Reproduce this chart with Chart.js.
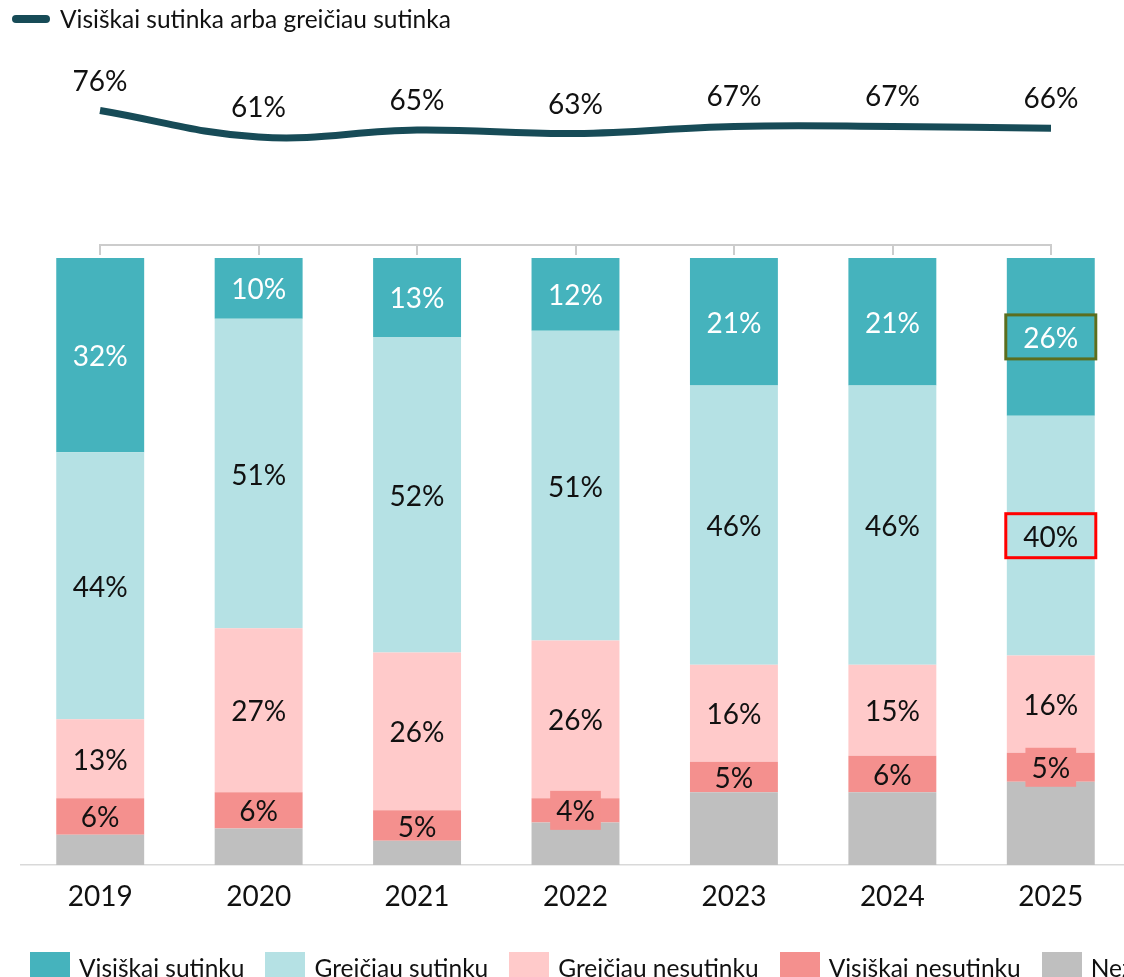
<!DOCTYPE html>
<html>
<head>
<meta charset="utf-8">
<script src="https://cdn.jsdelivr.net/npm/chart.js@4/dist/chart.umd.min.js"></script>
<style>
    html, body { margin: 0; padding: 0; background: #fff; overflow: hidden; }
    body { width: 1124px; height: 977px; position: relative; font-family: Lato, "Open Sans", sans-serif; color: #111; }
    #barWrap { position: absolute; left: 0; top: 0; width: 1140px; height: 977px; }
    #lineWrap { position: absolute; left: 0; top: 0; width: 1140px; height: 262px; }
    .topLegend { position: absolute; left: 12px; top: 4px; display: flex; align-items: center; font-size: 24.5px; white-space: nowrap; }
    .topLegend .swatch { width: 38px; height: 8px; border-radius: 4px; background: #174B57; margin-right: 10px; }
    .bottomLegend { position: absolute; left: 30px; top: 952px; display: flex; white-space: nowrap; font-size: 24.5px; }
    .bottomLegend .item { display: flex; align-items: flex-start; margin-right: 21px; }
    .bottomLegend .box { width: 40px; height: 40px; margin-right: 9px; }
    .bottomLegend span { line-height: 30px; margin-top: 1px; }
</style>
</head>
<body>
<div id="barWrap"><canvas id="barChart"></canvas></div>
<div id="lineWrap"><canvas id="lineChart"></canvas></div>
<div class="topLegend"><div class="swatch"></div>Visiškai sutinka arba greičiau sutinka</div>
<div class="bottomLegend" id="bottomLegend"></div>

<script>
// Data
const years = ['2019', '2020', '2021', '2022', '2023', '2024', '2025'];
const agreeTotal = [76, 61, 65, 63, 67, 67, 66];
const fullyAgree = [32, 10, 13, 12, 21, 21, 26];
const ratherAgree = [44, 51, 52, 51, 46, 46, 39.5];
const ratherDisagree = [13, 27, 26, 26, 16, 15, 16];
const fullyDisagree = [6, 6, 5, 4, 5, 6, 4.8];
const dontKnow = [5, 6, 4, 7, 12, 12, 13.7];

const seriesNames = ['Visiškai sutinku', 'Greičiau sutinku', 'Greičiau nesutinku', 'Visiškai nesutinku', 'Nežinau'];
const seriesColors = ['#45B3BD', '#B5E1E4', '#FFCACA', '#F4908E', '#BFBFBF'];

// boxes drawn round a few labels of the last bar
const highlights = [
    { series: 'Visiškai sutinku', index: 6, color: '#5B6E1E' },
    { series: 'Greičiau sutinku', index: 6, color: '#FF0000' }
];

const labelFont = '28px Lato';

// bottom legend (same order as the series names)
const legendEl = document.getElementById('bottomLegend');
seriesNames.forEach((name, i) => {
    const item = document.createElement('div');
    item.className = 'item';
    item.innerHTML = '<div class="box" style="background:' + seriesColors[i] + '"></div><span>' + name + '</span>';
    legendEl.appendChild(item);
});

const barLabels = {
    id: 'barLabels',
    afterDatasetsDraw(chart) {
        const ctx = chart.ctx;
        ctx.save();
        ctx.font = labelFont;
        ctx.textAlign = 'center';
        ctx.textBaseline = 'middle';
        const centers = {};
        chart.data.datasets.forEach((ds, di) => {
            if (!ds.showLabels) return;
            const meta = chart.getDatasetMeta(di);
            meta.data.forEach((bar, i) => {
                const txt = Math.round(ds.data[i]) + '%';
                const cy = (bar.y + bar.base) / 2;
                const h = Math.abs(bar.base - bar.y);
                const w = ctx.measureText(txt).width;
                // small segments get a label box in the series colour
                if (ds.fillSmall && h < 30) {
                    ctx.fillStyle = ds.backgroundColor;
                    ctx.fillRect(bar.x - w / 2 - 6, cy - 19.5, w + 12, 39);
                }
                ctx.fillStyle = ds.labelColor;
                ctx.fillText(txt, bar.x, cy + 2);
                centers[ds.label + '|' + i] = { x: bar.x, y: cy, w: w };
            });
        });
        highlights.forEach(hl => {
            const c = centers[hl.series + '|' + hl.index];
            if (!c) return;
            ctx.strokeStyle = hl.color;
            ctx.lineWidth = 3;
            ctx.strokeRect(c.x - 45, c.y - 22, 90, 44);
        });
        ctx.restore();
    }
};

function barDataset(name, data, labelColor, showLabels, fillSmall) {
    const i = seriesNames.indexOf(name);
    return {
        label: name,
        data: data,
        backgroundColor: seriesColors[i],
        borderWidth: 0,
        barPercentage: 0.555,
        categoryPercentage: 1,
        labelColor: labelColor,
        showLabels: showLabels,
        fillSmall: fillSmall
    };
}

new Chart(document.getElementById('barChart'), {
    type: 'bar',
    data: {
        labels: years,
        datasets: [
            barDataset('Nežinau', dontKnow, '#111', false, false),
            barDataset('Visiškai nesutinku', fullyDisagree, '#111', true, true),
            barDataset('Greičiau nesutinku', ratherDisagree, '#111', true, false),
            barDataset('Greičiau sutinku', ratherAgree, '#111', true, false),
            barDataset('Visiškai sutinku', fullyAgree, '#fff', true, false)
        ]
    },
    options: {
        responsive: true,
        maintainAspectRatio: false,
        animation: false,
        layout: { padding: { top: 258, left: 21, right: 10, bottom: 52 } },
        plugins: { legend: { display: false }, tooltip: { enabled: false } },
        scales: {
            x: {
                stacked: true,
                grid: { display: false, drawTicks: false },
                border: { display: true, color: '#D9D9D9', width: 1.5 },
                ticks: { color: '#111', font: { family: 'Lato', size: 28 }, padding: 15 },
                afterFit(scale) { scale.height = 60; }
            },
            y: { stacked: true, display: false, min: 0, max: 100 }
        }
    },
    plugins: [barLabels]
});

const lineLabels = {
    id: 'lineLabels',
    afterDatasetsDraw(chart) {
        const ctx = chart.ctx;
        ctx.save();
        ctx.font = labelFont;
        ctx.textAlign = 'center';
        ctx.textBaseline = 'middle';
        ctx.fillStyle = '#111';
        const meta = chart.getDatasetMeta(0);
        meta.data.forEach((pt, i) => {
            ctx.fillText(agreeTotal[i] + '%', pt.x, pt.y - 29);
        });
        ctx.restore();
    }
};

new Chart(document.getElementById('lineChart'), {
    type: 'line',
    data: {
        labels: years,
        datasets: [{
            label: 'Visiškai sutinka arba greičiau sutinka',
            data: agreeTotal,
            borderColor: '#174B57',
            borderWidth: 7,
            borderCapStyle: 'butt',
            pointRadius: 0,
            tension: 0.4,
            fill: false,
            clip: false
        }]
    },
    options: {
        responsive: true,
        maintainAspectRatio: false,
        animation: false,
        layout: { padding: { top: 68, left: 100, right: 89, bottom: 0 } },
        plugins: { legend: { display: false }, tooltip: { enabled: false } },
        scales: {
            x: {
                offset: false,
                grid: { display: true, drawOnChartArea: false, drawTicks: true, tickLength: 10, color: '#CCCCCC', lineWidth: 2 },
                border: { display: true, color: '#CCCCCC', width: 2 },
                ticks: { display: false },
                afterFit(scale) { scale.height = 17; }
            },
            y: { display: false, min: 0, max: 100 }
        }
    },
    plugins: [lineLabels]
});
</script>
</body>
</html>
